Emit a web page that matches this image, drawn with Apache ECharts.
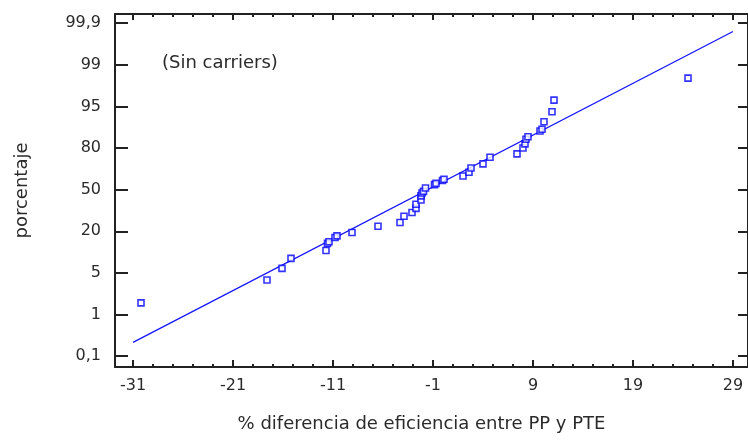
<!DOCTYPE html>
<html>
<head>
<meta charset="utf-8">
<script src="https://cdn.jsdelivr.net/npm/echarts@6/dist/echarts.min.js"></script>
<style>
  html, body { margin: 0; padding: 0; background: #fff; }
  #chart { width: 748px; height: 440px; }
</style>
</head>
<body>
<div id="chart"></div>
<script>
// x tick labels (major) and y tick labels (probability scale, evenly spaced)
var xTicks = [-31, -21, -11, -1, 9, 19, 29];
var yTickLabels = ['0,1', '1', '5', '20', '50', '80', '95', '99', '99,9'];

// observed points: x = % difference, y = position on the probability scale (tick index)
var pointsX = [-30.2, -17.6, -16.1, -15.2, -11.7, -11.55, -11.4, -10.8, -10.6, -9.1, -6.5, -4.3, -3.9, -3.1,
  -2.7, -2.7, -2.2, -2.2, -2.1, -1.95, -1.75, -0.85, -0.7, -0.05, 0.1, 2.0, 2.6, 2.8, 4.0, 4.7,
  7.4, 8.0, 8.2, 8.3, 8.5, 9.7, 9.9, 10.1, 10.9, 11.1, 24.5];
var pointsY = [1.28, 1.83, 2.11, 2.35, 2.54, 2.71, 2.75, 2.85, 2.89, 2.97, 3.12, 3.21, 3.36, 3.45,
  3.55, 3.65, 3.75, 3.85, 3.92, 3.96, 4.04, 4.12, 4.15, 4.22, 4.25, 4.33, 4.42, 4.52, 4.62, 4.78,
  4.86, 5.00, 5.10, 5.21, 5.27, 5.41, 5.45, 5.63, 5.87, 6.15, 6.68];

// fitted reference line
var fitX = [-31, 29];
var fitY = [0.33, 7.80];

var xMin = -32.8, xMax = 30.5;
var yMin = -0.26, yMax = 8.22;

var yTickValues = yTickLabels.map(function (s, i) { return i; });
var xMinor = [];
xTicks.forEach(function (t) {
  [2, 4, 6, 8].forEach(function (d) {
    if (t + d < xMax) xMinor.push(t + d);
  });
});

var axisColor = '#222';
var textColor = '#2a2a2a';
var fontFamily = '"DejaVu Sans", Verdana, sans-serif';
var gridPos = { left: 115, right: 0, top: 14, bottom: 73 };

var myChart = echarts.init(document.getElementById('chart'));
var option = {
  backgroundColor: '#fff',
  animation: false,
  grid: [
    Object.assign({}, gridPos),
    Object.assign({}, gridPos)
  ],
  xAxis: [{
    gridIndex: 0,
    type: 'value',
    position: 'bottom',
    min: xMin,
    max: xMax,
    name: '% diferencia de eficiencia entre PP y PTE',
    nameLocation: 'middle',
    nameGap: 48,
    nameTextStyle: { color: textColor, fontSize: 18, fontFamily: fontFamily, padding: [0, 20, 0, 0] },
    axisLine: { onZero: false, lineStyle: { color: axisColor, width: 2 } },
    axisTick: { inside: true, length: 7, customValues: xTicks, lineStyle: { color: axisColor, width: 2 } },
    axisLabel: { customValues: xTicks, margin: 11, color: textColor, fontSize: 16, fontFamily: fontFamily },
    splitLine: { show: false }
  }, {
    gridIndex: 0,
    type: 'value',
    position: 'top',
    min: xMin,
    max: xMax,
    axisLine: { onZero: false, lineStyle: { color: axisColor, width: 2 } },
    axisTick: { inside: true, length: 6, customValues: xTicks, lineStyle: { color: axisColor, width: 2 } },
    axisLabel: { show: false },
    splitLine: { show: false }
  }, {
    gridIndex: 1,
    type: 'value',
    position: 'bottom',
    min: xMin,
    max: xMax,
    axisLine: { show: false, onZero: false },
    axisTick: { inside: true, length: 3, customValues: xMinor, lineStyle: { color: axisColor, width: 2 } },
    axisLabel: { show: false },
    splitLine: { show: false }
  }, {
    gridIndex: 1,
    type: 'value',
    position: 'top',
    min: xMin,
    max: xMax,
    axisLine: { show: false, onZero: false },
    axisTick: { inside: true, length: 3, customValues: xMinor, lineStyle: { color: axisColor, width: 2 } },
    axisLabel: { show: false },
    splitLine: { show: false }
  }],
  yAxis: [{
    gridIndex: 0,
    type: 'value',
    position: 'left',
    min: yMin,
    max: yMax,
    name: 'porcentaje',
    nameLocation: 'middle',
    nameGap: 84,
    nameTextStyle: { color: textColor, fontSize: 18, fontFamily: fontFamily },
    axisLine: { onZero: false, lineStyle: { color: axisColor, width: 2 } },
    axisTick: { inside: true, length: 13, customValues: yTickValues, lineStyle: { color: axisColor, width: 2 } },
    axisLabel: {
      customValues: yTickValues,
      margin: 14,
      color: textColor,
      fontSize: 16,
      fontFamily: fontFamily,
      formatter: function (v) { return yTickLabels[Math.round(v)]; }
    },
    splitLine: { show: false }
  }, {
    gridIndex: 0,
    type: 'value',
    position: 'right',
    min: yMin,
    max: yMax,
    axisLine: { onZero: false, lineStyle: { color: axisColor, width: 2 } },
    axisTick: { inside: true, length: 10, customValues: yTickValues, lineStyle: { color: axisColor, width: 2 } },
    axisLabel: { show: false },
    splitLine: { show: false }
  }, {
    gridIndex: 1,
    type: 'value',
    min: yMin,
    max: yMax,
    axisLine: { show: false, onZero: false },
    axisTick: { show: false },
    axisLabel: { show: false },
    splitLine: { show: false }
  }],
  graphic: [{
    type: 'text',
    left: 162,
    top: 54,
    style: { text: '(Sin carriers)', fill: textColor, fontSize: 18, fontFamily: fontFamily }
  }],
  series: [{
    type: 'line',
    xAxisIndex: 0,
    yAxisIndex: 0,
    data: fitX.map(function (x, i) { return [x, fitY[i]]; }),
    symbol: 'none',
    lineStyle: { color: '#1515ff', width: 1.3 },
    z: 2
  }, {
    type: 'scatter',
    xAxisIndex: 0,
    yAxisIndex: 0,
    data: pointsX.map(function (x, i) { return [x, pointsY[i]]; }),
    symbol: 'rect',
    symbolSize: 6,
    itemStyle: { color: '#fff', borderColor: '#0000ff', borderWidth: 1.6 },
    z: 3
  }]
};
myChart.setOption(option);
</script>
</body>
</html>
